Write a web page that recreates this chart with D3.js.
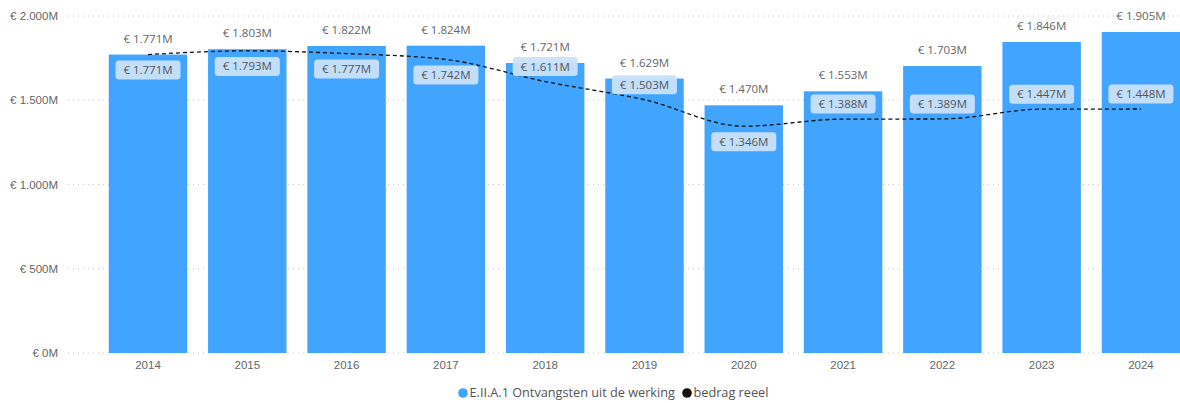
<!DOCTYPE html>
<html><head><meta charset="utf-8">
<script src="https://cdn.jsdelivr.net/npm/d3@7"></script>
<style>
html,body{margin:0;padding:0;background:#fff;}
svg{display:block;font-family:"Segoe UI","Open Sans","Noto Sans",sans-serif;}
</style></head>
<body>
<svg id="chart" width="1180" height="403"></svg>
<script>
const years = ["2014","2015","2016","2017","2018","2019","2020","2021","2022","2023","2024"];
const ontvangsten = [1771,1803,1822,1824,1721,1629,1470,1553,1703,1846,1905];
const bedragReeel = [1771,1793,1777,1742,1611,1503,1346,1388,1389,1447,1448];
const lineLabelSide = ["below","below","below","below","above","above","below","above","above","above","above"];
const yTicks = [0,500,1000,1500,2000];
const seriesNames = ["E.II.A.1 Ontvangsten uit de werking","bedrag reeel"];

const fmt = v => "€ " + d3.format(",")(v).replace(/,/g,".") + "M";

const svg = d3.select("#chart");
const y = d3.scaleLinear().domain([0,2000]).range([353,16]);
const x = d3.scaleBand().domain(years).range([98.35,1190.6]).paddingInner(0.21).paddingOuter(0.105);

// gridlines
svg.append("g").selectAll("line").data(yTicks).join("line")
  .attr("x1",68).attr("x2",1180)
  .attr("y1",d=>y(d)).attr("y2",d=>y(d))
  .attr("stroke","#c8c8c8").attr("stroke-width",1).attr("stroke-dasharray","1,4");

// y axis labels
const yAxis = d3.axisLeft(y).tickValues(yTicks).tickSize(0).tickPadding(0)
  .tickFormat(d => "€ " + d3.format(",")(d).replace(/,/g,".") + "M");
const ya = svg.append("g").attr("transform","translate(58,0)").call(yAxis);
ya.select(".domain").remove();
ya.selectAll("text").attr("fill","#666").attr("font-size","11.5px");

// x axis
const xAxis = d3.axisBottom(x).tickSize(0).tickPadding(0);
const xa = svg.append("g").attr("transform","translate(0,361)").call(xAxis);
xa.select(".domain").remove();
xa.selectAll("text").attr("fill","#666").attr("font-size","11.5px").attr("dy","0.71em");

// bars
svg.append("g").selectAll("rect").data(years).join("rect")
  .attr("x",d=>x(d)).attr("width",x.bandwidth())
  .attr("y",(d,i)=>y(ontvangsten[i])).attr("height",(d,i)=>y(0)-y(ontvangsten[i]))
  .attr("fill","#41A4FF");

// bar total labels
svg.append("g").selectAll("text").data(years).join("text")
  .attr("x",d=>x(d)+x.bandwidth()/2)
  .attr("y",(d,i)=>y(ontvangsten[i])-16)
  .attr("dy","0.35em")
  .attr("text-anchor","middle").attr("fill","#666").attr("font-size","11.5px")
  .text((d,i)=>fmt(ontvangsten[i]));

// line
const line = d3.line()
  .x((d,i)=>x(years[i])+x.bandwidth()/2)
  .y(d=>y(d))
  .curve(d3.curveMonotoneX);
svg.append("path").datum(bedragReeel)
  .attr("d",line).attr("fill","none").attr("stroke","#111")
  .attr("stroke-width",1.3).attr("stroke-dasharray","4,3");

// line labels
const lg = svg.append("g").selectAll("g").data(years).join("g")
  .attr("transform",(d,i)=>{
    const cx = x(d)+x.bandwidth()/2;
    const cy = y(bedragReeel[i]) + (lineLabelSide[i]==="below" ? 15.5 : -15);
    return `translate(${cx},${cy})`;
  });
lg.append("rect").attr("x",-32.5).attr("y",-9.5).attr("width",65).attr("height",19)
  .attr("rx",3.5).attr("fill","#c9e2fb").attr("fill-opacity",0.95);
lg.append("text").attr("text-anchor","middle").attr("dy","0.35em")
  .attr("fill","#555").attr("font-size","11.5px")
  .text((d,i)=>fmt(bedragReeel[i]));

// legend
const leg = svg.append("g").attr("transform","translate(0,393)");
leg.append("circle").attr("cx",463).attr("cy",0).attr("r",4.8).attr("fill","#41A4FF");
leg.append("text").attr("x",469.5).attr("y",0).attr("dy","0.35em").attr("fill","#555")
  .attr("font-size","12.7px").text(seriesNames[0]);
leg.append("circle").attr("cx",687).attr("cy",0).attr("r",4.8).attr("fill","#111");
leg.append("text").attr("x",693.5).attr("y",0).attr("dy","0.35em").attr("fill","#555")
  .attr("font-size","12.7px").text(seriesNames[1]);
</script>
</body></html>
